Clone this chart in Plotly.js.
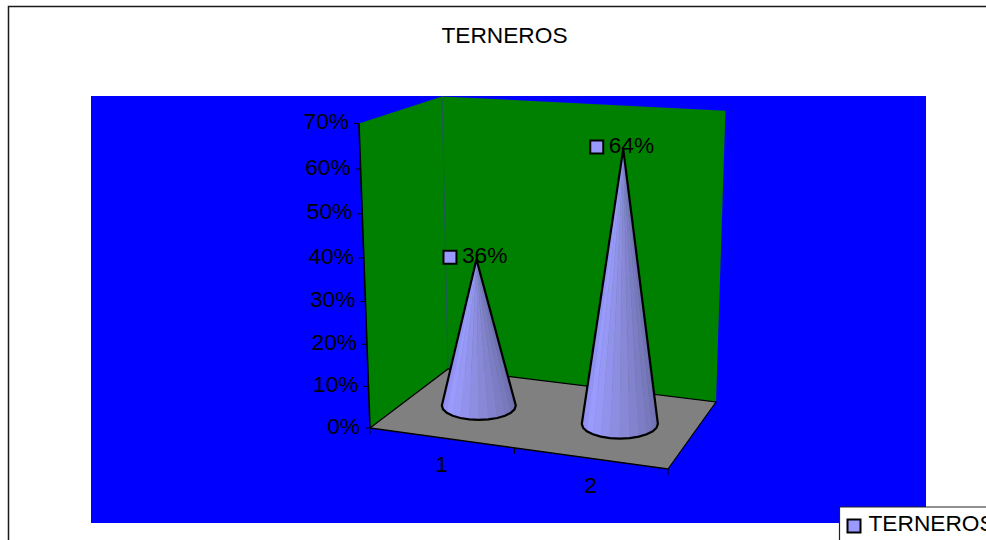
<!DOCTYPE html>
<html>
<head>
<meta charset="utf-8">
<script src="https://cdn.plot.ly/plotly-3.0.1.min.js"></script>
<style>html,body{margin:0;padding:0;background:#fff;overflow:hidden}#chart{width:986px;height:540px}</style>
</head>
<body>
<div id="chart"></div>
<script>
// Percentages per calf group
const categories = ['1', '2'];
const values = [0.36, 0.64];
const valueTicks = [0, 0.1, 0.2, 0.3, 0.4, 0.5, 0.6, 0.7];
const seriesName = 'TERNEROS';
const valueMax = 0.7;
const font = 'Liberation Sans, Arial, sans-serif';
const textSize = 22.7;

// Perspective map of the chart box: u runs along the categories, d into the depth, v up the value axis.
function project(u, d, value) {
  const v = value / valueMax;
  const w = 1 - 0.0591 * u + 0.1225 * d - 0.052 * v;
  const x = 370 + 258.5 * u + 132.9 * d - 29.7 * v;
  const y = 428 + 13.3 * u - 13.8 * d - 311 * v;
  return [x / w + 2 * u * u * v, y / w - 4.5 * u * u * v];
}
const depthScale = (u, d) => 1 / (1 - 0.0591 * u + 0.1225 * d);

const traces = [];
function polygon(points, fill, line, width) {
  const pts = points.concat([points[0]]);
  traces.push({
    type: 'scatter', mode: 'lines', x: pts.map(p => p[0]), y: pts.map(p => p[1]),
    fill: 'toself', fillcolor: fill, line: {color: line || fill, width: width === undefined ? 0 : width},
    hoverinfo: 'skip', showlegend: false
  });
}
function path(points, color, width) {
  traces.push({
    type: 'scatter', mode: 'lines', x: points.map(p => p ? p[0] : null), y: points.map(p => p ? p[1] : null),
    line: {color, width}, hoverinfo: 'skip', showlegend: false, cliponaxis: false
  });
}
function labels(points, texts, position) {
  traces.push({
    type: 'scatter', mode: 'text', x: points.map(p => p[0]), y: points.map(p => p[1]), text: texts,
    textposition: position, textfont: {family: font, size: textSize, color: '#000'},
    hoverinfo: 'skip', showlegend: false, cliponaxis: false
  });
}

// Walls and floor
polygon([project(0,0,0), project(0,0,valueMax), project(0,1,valueMax), project(0,1,0)], '#008000');
polygon([project(0,1,0), project(0,1,valueMax), project(1,1,valueMax), project(1,1,0)], '#008000');
polygon([project(0,0,0), project(1,0,0), project(1,1,0), project(0,1,0)], '#808080');
path([project(0,1,0), project(0,1,valueMax)], '#1d5c55', 1);
path([project(0,0,0), project(0,1,0), project(1,1,0), project(1,0,0)], '#000', 1.2);
path([project(0,0,0), project(1,0,0)], '#000', 1.6);
path([project(0,0,0), project(0,0,valueMax)], '#000', 1.6);

// Axis ticks and labels
const tickMarks = [];
valueTicks.forEach(t => { const p = project(0,0,t); tickMarks.push([p[0]-5,p[1]], p, null); });
[0, 0.5, 1].forEach(u => { const p = project(u,0,0); tickMarks.push(p, [p[0],p[1]+6], null); });
path(tickMarks, '#000', 1);
labels(valueTicks.map(t => { const p = project(0,0,t); return [p[0]-10, p[1]]; }),
       valueTicks.map(t => Math.round(t * 100) + '%'), 'middle left');
labels(categories.map((c, i) => { const p = project((i + 0.5) / categories.length, 0, 0); return [p[0]+0.5, p[1]+29]; }),
       categories, 'middle center');

// Faceted cones
const shadeStops = [[0,[136,136,232]],[0.22,[156,156,255]],[0.6,[132,132,208]],[1,[106,106,168]]];
function shade(t) {
  let k = 0;
  while (k < shadeStops.length - 2 && t > shadeStops[k+1][0]) k++;
  const [a, ca] = shadeStops[k], [b, cb] = shadeStops[k+1];
  const f = (t - a) / (b - a);
  const c = ca.map((q, j) => Math.round(q + (cb[j] - q) * f));
  return `rgb(${c.join(',')})`;
}
const facets = 12;
values.forEach((value, i) => {
  const u = (i + 0.5) / values.length;
  const base = project(u, 0.5, 0), apex = project(u, 0.5, value);
  const s = depthScale(u, 0.5);
  const rim = [];
  for (let k = 0; k <= facets; k++) {
    const a = Math.PI * k / facets;
    rim.push([base[0] - 38.7 * s * Math.cos(a), base[1] + 15 * s * Math.sin(a)]);
  }
  for (let k = 0; k < facets; k++) {
    polygon([apex, rim[k], rim[k+1]], shade((k + 0.5) / facets), shade((k + 0.5) / facets), 0.5);
  }
  path([apex].concat(rim, [apex]), '#000', 2.2);
});

// Data labels: key square beside each value
const tips = values.map((v, i) => project((i + 0.5) / values.length, 0.5, v));
traces.push({
  type: 'scatter', mode: 'markers', name: seriesName, x: tips.map(p => p[0]-26.5), y: tips.map(p => p[1]-2),
  marker: {symbol: 'square', size: 13, color: '#9999ff', line: {color: '#000', width: 2}},
  hoverinfo: 'skip', showlegend: false
});
labels(tips.map(p => [p[0]-14.5, p[1]-1.5]), values.map(v => Math.round(v * 100) + '%'), 'middle right');

// Key box at the bottom right
traces.push({
  type: 'scatter', mode: 'markers', x: [854], y: [526],
  marker: {symbol: 'square', size: 13, color: '#9999ff', line: {color: '#000', width: 2}},
  hoverinfo: 'skip', showlegend: false, cliponaxis: false
});
labels([[868.5, 525.5]], [seriesName], 'middle right');

const layout = {
  width: 986, height: 540,
  margin: {l: 0, r: 0, t: 0, b: 0, autoexpand: false},
  paper_bgcolor: '#fff', plot_bgcolor: '#fff',
  showlegend: false,
  title: {text: seriesName, x: 504.5 / 986, xanchor: 'center', y: 1 - 35 / 540, yanchor: 'middle',
          font: {family: font, size: textSize, color: '#000'}},
  xaxis: {range: [0, 986], visible: false, fixedrange: true},
  yaxis: {range: [540, 0], visible: false, fixedrange: true},
  shapes: [
    {type: 'rect', layer: 'below', x0: 91, x1: 926, y0: 96, y1: 523, fillcolor: '#0000ff', line: {width: 0}},
    {type: 'path', layer: 'below', path: 'M 8.5 540 L 8.5 6.5 L 986 6.5', line: {color: '#1a1a1a', width: 1.5}},
    {type: 'rect', layer: 'below', x0: 839.5, x1: 1000, y0: 507, y1: 560, fillcolor: '#fff', line: {color: '#222', width: 1.2}}
  ]
};
Plotly.newPlot('chart', traces, layout, {displayModeBar: false, responsive: false});
</script>
</body>
</html>
